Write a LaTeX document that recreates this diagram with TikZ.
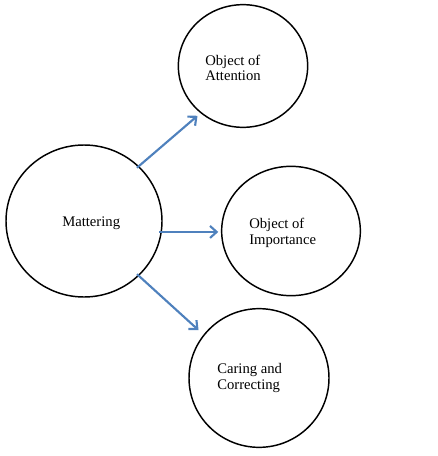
\documentclass[tikz,border=0pt]{standalone}
\usepackage{fontspec}
\setmainfont{Liberation Serif}
\usepackage{tikz}
\usetikzlibrary{arrows.meta, shapes.geometric, positioning}
\definecolor{arrowblue}{RGB}{79,129,189}
\tikzset{bubble/.style={ellipse, draw=black, line width=1.1pt, inner sep=0pt},
blabel/.style={anchor=west, align=left, inner sep=0pt, font=\fontsize{11}{11.5}\selectfont},
flow/.style={draw=arrowblue, line width=1.6pt, -{Straight Barb[length=5pt,width=9pt]}}}

\begin{document}
\begin{tikzpicture}[x=0.75pt,y=-0.75pt]
 \useasboundingbox (0,0) rectangle (438,456);

 %Drawing the circles
 \node[bubble, minimum width=117pt, minimum height=114pt] (matter) at (84,221) {};
 \node[bubble, minimum width=97pt, minimum height=92pt] (attn) at (243,66) {};
 \node[bubble, minimum width=104pt, minimum height=97pt] (import) at (291,231) {};
 \node[bubble, minimum width=105pt, minimum height=104pt] (caring) at (259,378) {};

 %Labels
 \node[blabel] (mlabel) at (62,223) {Mattering};
 \node[blabel] (alabel) at (205,68) {Object of\\Attention};
 \node[blabel] (ilabel) at (249,233) {Object of\\Importance};
 \node[blabel] (clabel) at (217,378) {Caring and\\Correcting};

 %Arrows
 \draw[flow, shorten <=-2pt, shorten >=3pt] (matter.45) -- (attn.228);
 \draw[flow, shorten <=-2pt, shorten >=2pt] (matter.-8) -- (matter.-8 -| import.west);
 \draw[flow, shorten <=-2pt, shorten >=5pt] (matter.-45) -- (caring.142);

\end{tikzpicture}
\end{document}
